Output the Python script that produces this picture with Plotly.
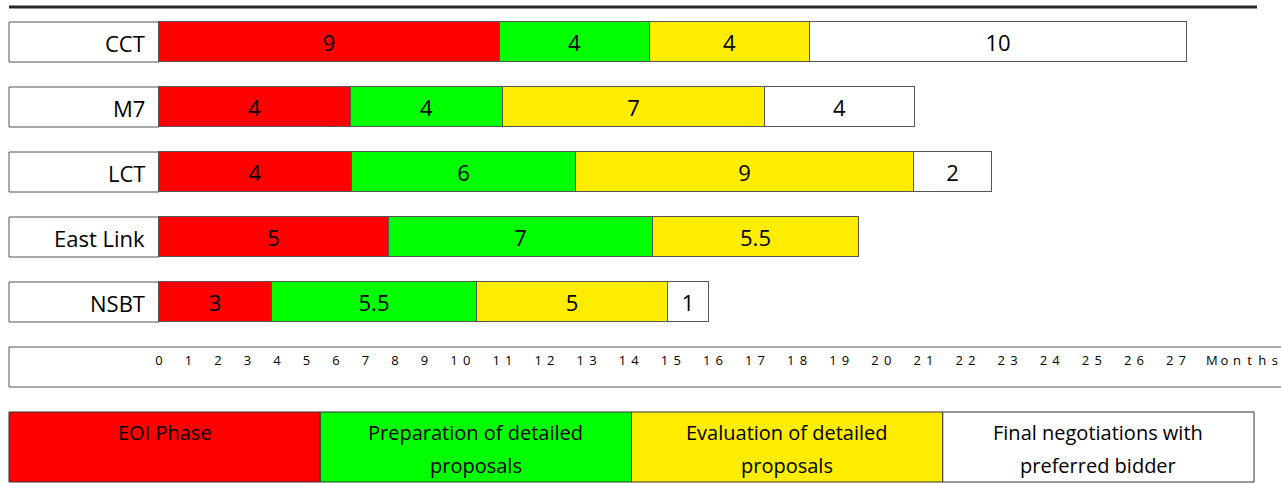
import plotly.graph_objects as go

# ---------------- data ----------------
projects = ["CCT", "M7", "LCT", "East Link", "NSBT"]

phase_names = [
    "EOI Phase",
    "Preparation of detailed\nproposals",
    "Evaluation of detailed\nproposals",
    "Final negotiations with\npreferred bidder",
]
phase_colors = ["#FF0000", "#00FF00", "#FFED00", "#FFFFFF"]

# segment lengths as drawn on the chart (months, chart scale)
eoi_drawn = [8.97, 5.05, 5.09, 6.04, 2.97]
prep_drawn = [3.94, 3.99, 5.88, 6.96, 5.40]
eval_drawn = [4.23, 6.90, 8.91, 5.41, 5.02]
final_drawn = [9.91, 3.95, 2.05, None, 1.09]

# labels printed in the segments (months)
eoi_labels = ["9", "4", "4", "5", "3"]
prep_labels = ["4", "4", "6", "7", "5.5"]
eval_labels = ["4", "7", "9", "5.5", "5"]
final_labels = ["10", "4", "2", "", "1"]

month_ticks = ["0", "1", "2", "3", "4", "5", "6", "7", "8", "9", "10", "11", "12", "13",
               "14", "15", "16", "17", "18", "19", "20", "21", "22", "23", "24", "25", "26", "27"]
axis_unit = "Months"

# ---------------- layout constants ----------------
W, H = 1281, 483
ORIGIN_PX = 159.0      # pixel of month 0
PX_PER_MONTH = 38.0
ROW0_PX = 42.0         # centre of first row
ROW_PX = 65.0          # row pitch
BAR_PX = 40.0          # bar thickness
LEFT_PX = 9.0
FONT = "Open Sans"
EDGE = "#555555"


def xm(px):  # pixel -> month data coordinate
    return (px - ORIGIN_PX) / PX_PER_MONTH


def yr(px):  # pixel -> row data coordinate
    return (px - ROW0_PX) / ROW_PX


def xp(px):
    return px / W


def yp(px):
    return 1 - px / H


bar_w = BAR_PX / ROW_PX
rows = list(range(len(projects)))

fig = go.Figure()

series = [
    (eoi_drawn, eoi_labels, phase_colors[0]),
    (prep_drawn, prep_labels, phase_colors[1]),
    (eval_drawn, eval_labels, phase_colors[2]),
    (final_drawn, final_labels, phase_colors[3]),
]
for vals, labels, col in series:
    fig.add_trace(go.Bar(
        y=rows, x=vals, orientation="h", width=bar_w,
        marker=dict(color=col, line=dict(color=EDGE, width=1)),
        text=labels, texttemplate="%{text}", textposition="inside",
        insidetextanchor="middle", textangle=0, constraintext="none",
        textfont=dict(family=FONT, size=22, color="black"),
        hoverinfo="skip", showlegend=False,
    ))

shapes = []
annotations = []

# label boxes with project names
for i, name in enumerate(projects):
    shapes.append(dict(type="rect", xref="x", yref="y",
                       x0=xm(LEFT_PX), x1=0, y0=i - bar_w / 2, y1=i + bar_w / 2,
                       fillcolor="white", line=dict(color=EDGE, width=1), layer="below"))
    annotations.append(dict(xref="x", yref="y", x=xm(147), y=i, text=name,
                            xanchor="right", yanchor="middle", showarrow=False,
                            yshift=-1,
                            font=dict(family=FONT, size=22, color="black")))

# top rule
shapes.append(dict(type="line", xref="paper", yref="paper",
                   x0=xp(9), x1=xp(1257), y0=yp(7), y1=yp(7),
                   line=dict(color="#262626", width=3)))

# month scale box
shapes.append(dict(type="rect", xref="paper", yref="paper",
                   x0=xp(LEFT_PX), x1=xp(W + 20), y0=yp(387), y1=yp(347),
                   fillcolor="white", line=dict(color=EDGE, width=1), layer="below"))

# month scale text (tracked lettering)
CHAR_ADV = 12.6
SEP = 16.9
tx, tt = [], []
pos = ORIGIN_PX
for tok in month_ticks + [axis_unit]:
    for ch in tok:
        tx.append(xm(pos))
        tt.append(ch)
        pos += CHAR_ADV
    pos += SEP
fig.add_trace(go.Scatter(x=tx, y=[yr(362)] * len(tx), mode="text", text=tt,
                         textposition="middle center",
                         textfont=dict(family=FONT, size=13, color="black"),
                         hoverinfo="skip", showlegend=False, cliponaxis=False))

# legend boxes
LEG_L, LEG_R, LEG_T, LEG_B = 9.0, 1254.0, 412.0, 482.0
bw = (LEG_R - LEG_L) / len(phase_names)
for k, (nm, col) in enumerate(zip(phase_names, phase_colors)):
    x0 = LEG_L + k * bw
    shapes.append(dict(type="rect", xref="paper", yref="paper",
                       x0=xp(x0), x1=xp(x0 + bw), y0=yp(LEG_B), y1=yp(LEG_T),
                       fillcolor=col, line=dict(color="#333333", width=1), layer="below"))
    for j, line in enumerate(nm.split("\n")):
        annotations.append(dict(xref="paper", yref="paper", x=xp(x0 + bw / 2),
                                y=yp(432 + 33 * j), text=line, showarrow=False,
                                xanchor="center", yanchor="middle",
                                font=dict(family=FONT, size=20, color="black")))

fig.update_layout(
    width=W, height=H, margin=dict(l=0, r=0, t=0, b=0),
    paper_bgcolor="white", plot_bgcolor="white",
    barmode="stack", bargap=0, showlegend=False,
    xaxis=dict(range=[xm(0), xm(W)], visible=False, fixedrange=True),
    yaxis=dict(range=[yr(H), yr(0)], visible=False, fixedrange=True),
    shapes=shapes, annotations=annotations,
)

fig.write_html("out.html")
